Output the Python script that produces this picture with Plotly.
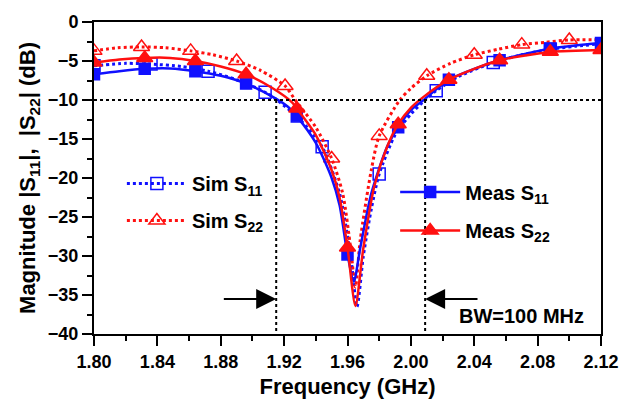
import plotly.graph_objects as go

# ---------------- data ----------------
# Simulated S11 (blue dotted curve)
sim11_f = [1.800, 1.820, 1.836, 1.855, 1.872, 1.890, 1.908, 1.9155, 1.930, 1.944, 1.955, 1.962, 1.966,
           1.970, 1.975, 1.980, 1.990, 2.000, 2.009, 2.016, 2.030, 2.052, 2.070, 2.088, 2.104, 2.120]
sim11_db = [-5.6, -5.3, -5.4, -5.7, -6.3, -7.4, -9.0, -10.0, -12.5, -16.0, -22.0, -30.0, -36.5,
            -30.0, -24.0, -19.5, -14.5, -11.8, -10.0, -8.8, -7.0, -5.2, -4.2, -3.5, -3.1, -2.8]
sim11_mf = [1.800, 1.836, 1.872, 1.908, 1.944, 1.980, 2.016, 2.052, 2.088]
sim11_mdb = [-5.6, -5.4, -6.3, -9.0, -16.0, -19.5, -8.8, -5.2, -3.5]

# Simulated S22 (red dotted curve)
sim22_f = [1.800, 1.815, 1.830, 1.845, 1.861, 1.875, 1.890, 1.905, 1.9206, 1.927, 1.940, 1.950, 1.957,
           1.962, 1.965, 1.968, 1.975, 1.980, 1.993, 2.000, 2.010, 2.025, 2.040, 2.055, 2.070, 2.085,
           2.100, 2.120]
sim22_db = [-3.7, -3.3, -3.2, -3.3, -3.7, -4.2, -5.0, -6.2, -8.2, -10.0, -13.5, -17.5, -22.0,
            -29.0, -34.0, -28.0, -19.0, -14.6, -10.0, -8.5, -6.9, -5.3, -4.2, -3.5, -2.9, -2.6,
            -2.3, -2.3]
sim22_mf = [1.800, 1.830, 1.861, 1.890, 1.9206, 1.950, 1.980, 2.010, 2.040, 2.070, 2.100]
sim22_mdb = [-3.7, -3.2, -3.7, -5.0, -8.2, -17.5, -14.6, -6.9, -4.2, -2.9, -2.3]

# Measured S11 (blue solid curve)
meas11_f = [1.800, 1.816, 1.832, 1.848, 1.864, 1.880, 1.896, 1.912, 1.922, 1.928, 1.940, 1.950, 1.955,
            1.960, 1.964, 1.968, 1.975, 1.985, 1.992, 2.000, 2.008, 2.024, 2.040, 2.056, 2.072, 2.088,
            2.104, 2.120]
meas11_db = [-6.7, -6.3, -6.0, -5.95, -6.3, -6.9, -7.9, -9.5, -10.8, -12.1, -15.5, -20.0, -23.5,
             -29.8, -33.3, -29.0, -22.0, -16.0, -13.5, -11.3, -10.0, -7.4, -6.0, -4.9, -4.1, -3.4,
             -3.0, -2.7]
meas11_mf = [1.800, 1.832, 1.864, 1.896, 1.928, 1.960, 1.992, 2.024, 2.056, 2.088, 2.120]
meas11_mdb = [-6.7, -6.0, -6.3, -7.9, -12.1, -29.8, -13.5, -7.4, -4.9, -3.4, -2.7]

# Measured S22 (red solid curve)
meas22_f = [1.800, 1.816, 1.832, 1.848, 1.864, 1.880, 1.896, 1.912, 1.925, 1.928, 1.940, 1.950, 1.955,
            1.960, 1.965, 1.970, 1.977, 1.985, 1.992, 2.000, 2.008, 2.024, 2.040, 2.056, 2.072, 2.088,
            2.104, 2.120]
meas22_db = [-5.2, -4.8, -4.6, -4.6, -5.0, -5.7, -6.7, -8.4, -10.3, -11.1, -14.5, -19.0, -22.5,
             -28.9, -36.4, -29.0, -21.0, -16.0, -13.1, -11.0, -9.6, -7.4, -6.0, -4.9, -4.3, -3.8,
             -3.7, -3.6]
meas22_mf = [1.800, 1.832, 1.864, 1.896, 1.928, 1.960, 1.992, 2.024, 2.056, 2.088, 2.120]
meas22_mdb = [-5.2, -4.6, -5.0, -6.7, -11.1, -28.9, -13.1, -7.4, -4.9, -3.8, -3.6]

# reference lines / bandwidth markers
ref_level = -10.0
bw_edges = [1.915, 2.009]
arrow_level = -35.5
arrow_len = 0.034
bw_label = "BW=100 MHz"
bw_label_pos = (2.070, -37.7)

x_ticks = [1.80, 1.84, 1.88, 1.92, 1.96, 2.00, 2.04, 2.08, 2.12]
x_ticktext = ["1.80", "1.84", "1.88", "1.92", "1.96", "2.00", "2.04", "2.08", "2.12"]
y_ticks = [0, -5, -10, -15, -20, -25, -30, -35, -40]

BLUE = "#1010ff"
RED = "#ff1010"
FONT = "Liberation Sans, Arial, sans-serif"

fig = go.Figure()

series = [
    # name, f, db, mf, mdb, color, dash, symbol, width, legend
    ("Sim S<sub>11</sub>", sim11_f, sim11_db, sim11_mf, sim11_mdb, BLUE, "dot", "square-open", 3, "legend"),
    ("Sim S<sub>22</sub>", sim22_f, sim22_db, sim22_mf, sim22_mdb, RED, "dot", "triangle-up-open", 3, "legend2"),
    ("Meas S<sub>11</sub>", meas11_f, meas11_db, meas11_mf, meas11_mdb, BLUE, "solid", "square", 2.5, "legend3"),
    ("Meas S<sub>22</sub>", meas22_f, meas22_db, meas22_mf, meas22_mdb, RED, "solid", "triangle-up", 2.5, "legend4"),
]

for name, f, db, mf, mdb, col, dash, sym, w, lg in series:
    msize = 12 if "open" in sym else 11
    if sym.startswith("triangle"):
        msize = 14
    fig.add_trace(go.Scatter(x=f, y=db, mode="lines", line=dict(color=col, width=w, dash=dash,
                             shape="spline", smoothing=0.7), showlegend=False, hoverinfo="skip"))
    fig.add_trace(go.Scatter(x=mf, y=mdb, mode="markers",
                             marker=dict(symbol=sym, size=msize, color=col,
                                         line=dict(color=col, width=1.5)),
                             showlegend=False, hoverinfo="skip"))
    # legend entry
    fig.add_trace(go.Scatter(x=[None], y=[None], mode="lines+markers", name=name, legend=lg,
                             line=dict(color=col, width=w, dash=dash),
                             marker=dict(symbol=sym, size=msize, color=col,
                                         line=dict(color=col, width=1.5))))

# dotted reference lines
fig.add_shape(type="line", xref="paper", x0=0, x1=1, yref="y", y0=ref_level, y1=ref_level,
              line=dict(color="black", width=2, dash="dot"))
for e in bw_edges:
    fig.add_shape(type="line", xref="x", x0=e, x1=e, yref="y", y0=ref_level, y1=-40,
                  line=dict(color="black", width=2, dash="dot"))

# arrows
fig.add_annotation(x=bw_edges[0], y=arrow_level, ax=bw_edges[0] - arrow_len, ay=arrow_level,
                   xref="x", yref="y", axref="x", ayref="y", text="", showarrow=True,
                   arrowhead=2, arrowsize=2, arrowwidth=2, arrowcolor="black")
fig.add_annotation(x=bw_edges[1], y=arrow_level, ax=bw_edges[1] + arrow_len, ay=arrow_level,
                   xref="x", yref="y", axref="x", ayref="y", text="", showarrow=True,
                   arrowhead=2, arrowsize=2, arrowwidth=2, arrowcolor="black")
fig.add_annotation(x=bw_label_pos[0], y=bw_label_pos[1], xref="x", yref="y", text=bw_label,
                   showarrow=False, font=dict(size=20, color="black", family=FONT, weight="bold"))

leg_common = dict(bgcolor="rgba(0,0,0,0)", borderwidth=0, itemwidth=60, xanchor="left",
                  yanchor="middle", font=dict(size=20, color="black", family=FONT, weight="bold"))
fig.update_layout(
    width=642, height=409,
    margin=dict(l=94, r=41, t=13, b=75),
    paper_bgcolor="white", plot_bgcolor="white",
    font=dict(family=FONT, size=18, color="black", weight="bold"),
    legend=dict(x=0.055, y=0.482, **leg_common),
    legend2=dict(x=0.055, y=0.364, **leg_common),
    legend3=dict(x=0.594, y=0.455, **leg_common),
    legend4=dict(x=0.594, y=0.332, **leg_common),
    xaxis=dict(range=[1.80, 2.12], tickvals=x_ticks, ticktext=x_ticktext, ticks="outside",
               ticklen=10, tickwidth=2, tickcolor="black", showline=True, linewidth=2,
               linecolor="black", mirror=True, showgrid=False, zeroline=False,
               minor=dict(dtick=0.02, tick0=1.80, ticks="outside", ticklen=5, tickwidth=2,
                          tickcolor="black"),
               title=dict(text="Frequency (GHz)", standoff=8),
               tickfont=dict(size=18)),
    yaxis=dict(range=[-40, 0], tickvals=y_ticks, ticks="outside", ticklen=10, tickwidth=2,
               tickcolor="black", showline=True, linewidth=2, linecolor="black", mirror=True,
               showgrid=False, zeroline=False,
               minor=dict(dtick=2.5, tick0=0, ticks="outside", ticklen=5, tickwidth=2,
                          tickcolor="black"),
               title=dict(text="Magnitude |S<sub>11</sub>|,  |S<sub>22</sub>| (dB)", standoff=6),
               tickfont=dict(size=18)),
)

fig.write_html("out.html")
